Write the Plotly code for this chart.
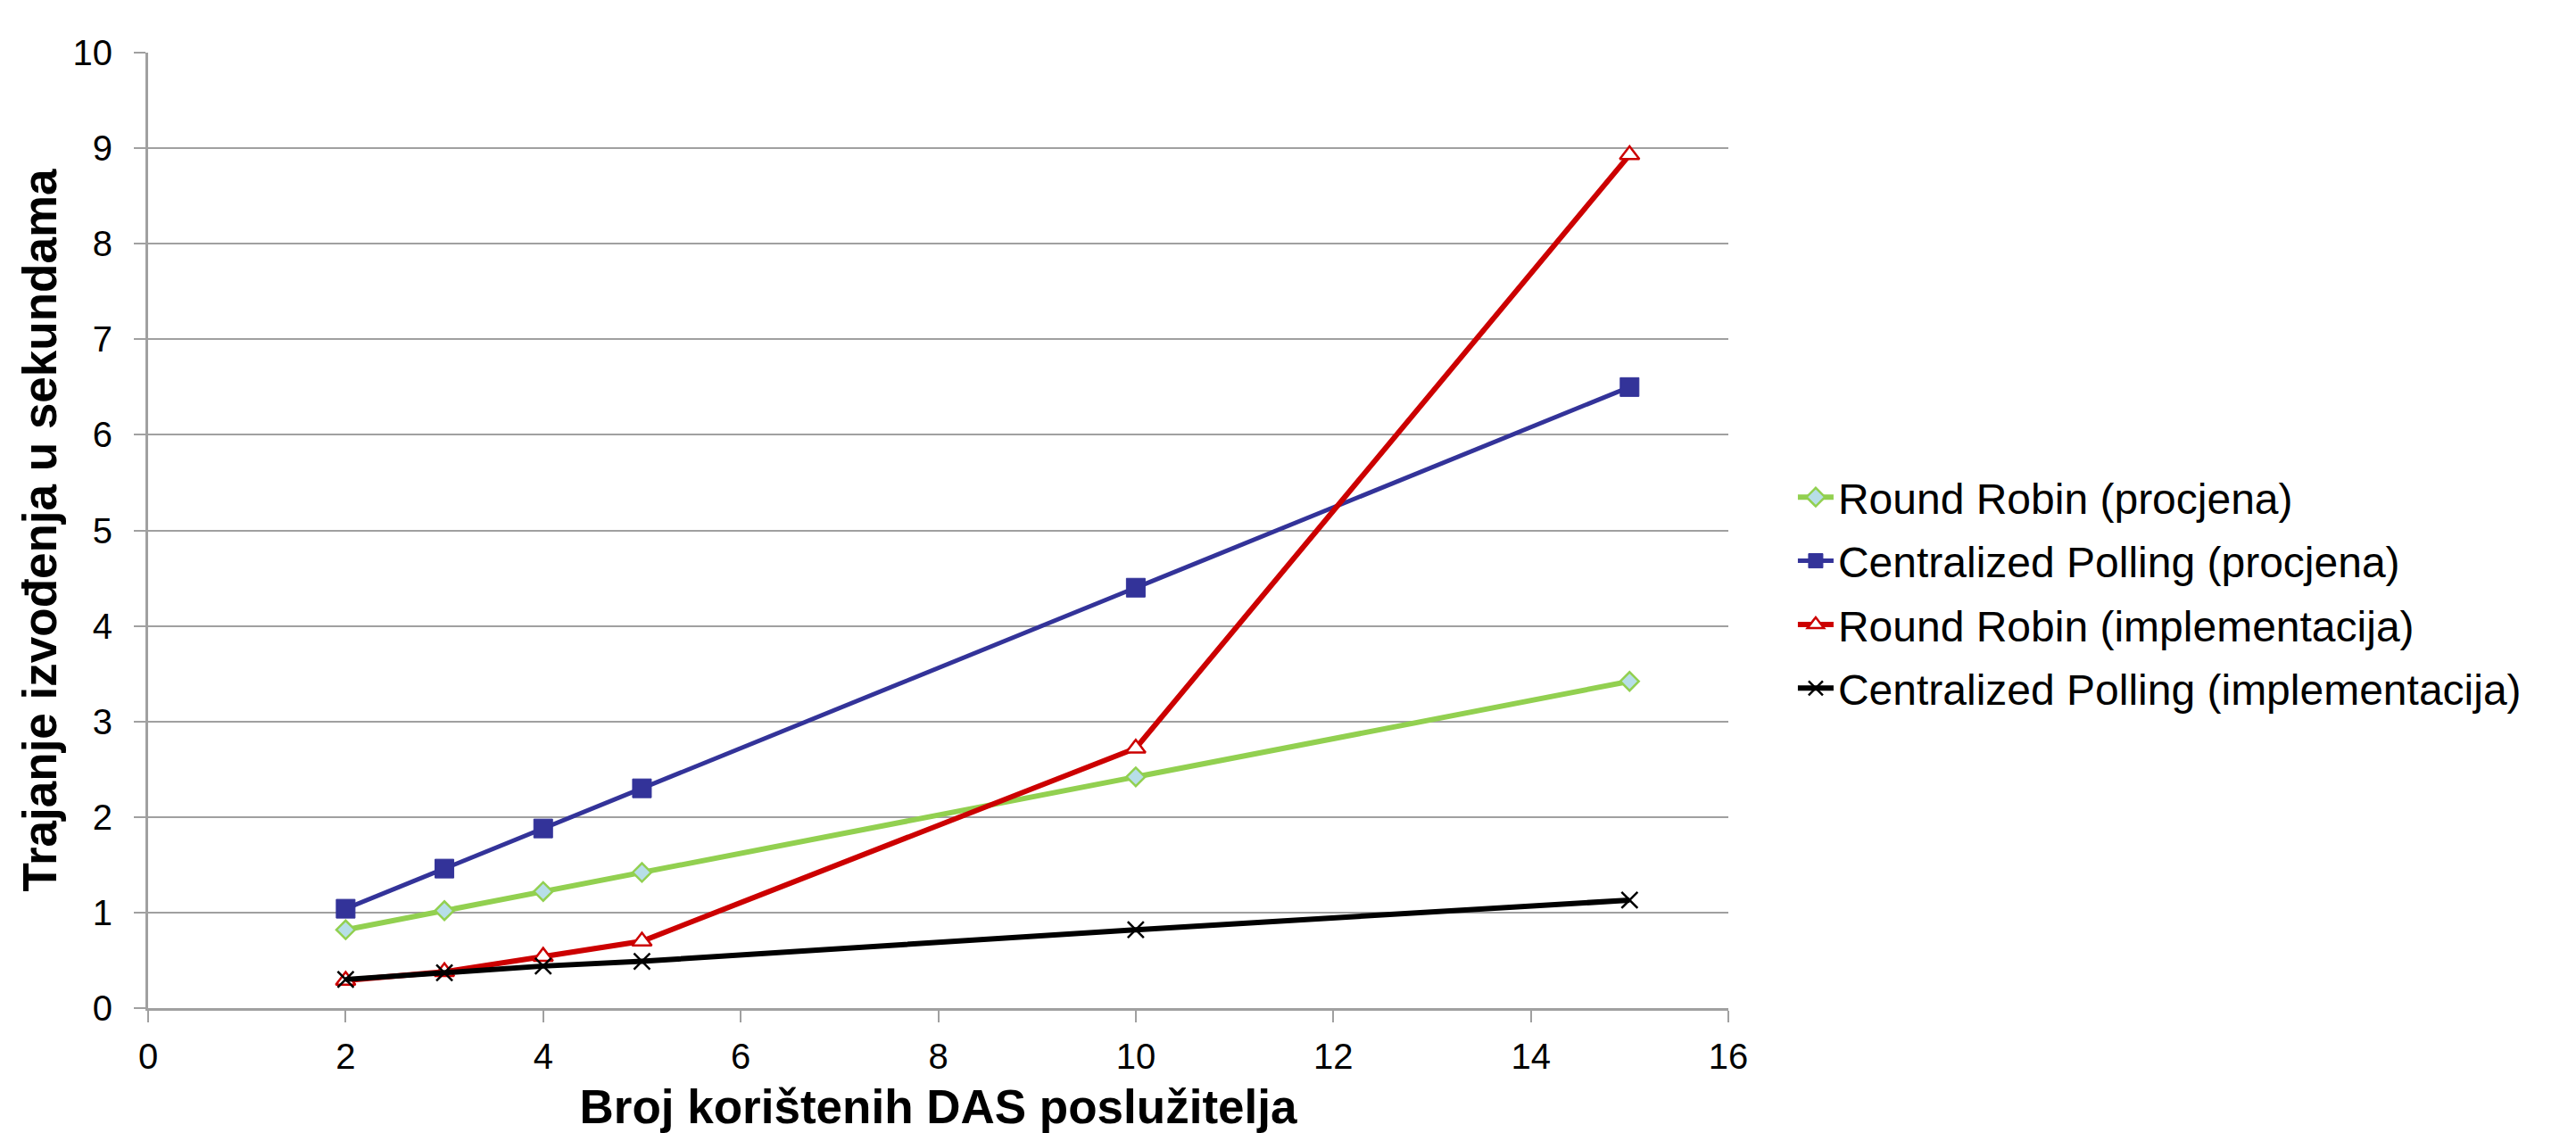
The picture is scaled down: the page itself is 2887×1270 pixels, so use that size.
import plotly.graph_objects as go

x_vals = [2, 3, 4, 5, 10, 15]
rr_est = [0.82, 1.02, 1.22, 1.42, 2.42, 3.42]
cp_est = [1.04, 1.46, 1.88, 2.30, 4.40, 6.50]
rr_impl = [0.29, 0.38, 0.54, 0.70, 2.72, 8.93]
cp_impl = [0.30, 0.37, 0.44, 0.49, 0.82, 1.13]

names = [
    "Round Robin (procjena)",
    "Centralized Polling (procjena)",
    "Round Robin (implementacija)",
    "Centralized Polling (implementacija)",
]

x_title = "Broj korištenih DAS poslužitelja"
y_title = "Trajanje izvođenja u sekundama"

FONT = "Liberation Sans, Arial, sans-serif"

fig = go.Figure()
fig.add_trace(go.Scatter(
    x=x_vals, y=rr_est, name=names[0], mode="lines+markers", legendgroup="a",
    line=dict(color="#92D050", width=6),
    marker=dict(symbol="diamond", size=16, color="#B7DEE8",
                line=dict(color="#92D050", width=2.5)),
))
fig.add_trace(go.Scatter(
    x=x_vals, y=cp_est, name=names[1], mode="lines+markers", legendgroup="b",
    line=dict(color="#333399", width=5),
    marker=dict(symbol="square", size=21, color="#333399",
                line=dict(color="#333399", width=1)),
))
fig.add_trace(go.Scatter(
    x=x_vals, y=rr_impl, name=names[2], mode="lines+markers", legendgroup="c",
    line=dict(color="#CC0000", width=6),
    marker=dict(symbol="triangle-up", size=19, color="white",
                line=dict(color="#CC0000", width=2.5)),
))
fig.add_trace(go.Scatter(
    x=x_vals, y=cp_impl, name=names[3], mode="lines+markers", legendgroup="d",
    line=dict(color="black", width=6),
    marker=dict(symbol="x-thin", size=18, color="black",
                line=dict(color="black", width=2.5)),
))

fig.update_layout(
    width=2887, height=1270,
    margin=dict(l=166, r=950, t=59, b=140),
    paper_bgcolor="white", plot_bgcolor="white",
    font=dict(family=FONT, color="black", size=40),
    legend=dict(
        xref="container", yref="container",
        x=0.6962, y=0.4768, xanchor="left", yanchor="middle",
        font=dict(family=FONT, size=48, color="black"),
        traceorder="grouped", tracegroupgap=6,
        bgcolor="rgba(0,0,0,0)", itemwidth=40,
    ),
    xaxis=dict(
        range=[0, 16], dtick=2, tick0=0,
        showgrid=False, zeroline=False, automargin=False,
        showline=True, linecolor="#A0A0A0", linewidth=3,
        ticks="outside", ticklen=13, tickwidth=2, tickcolor="#A0A0A0",
        ticklabelstandoff=4,
        tickfont=dict(family=FONT, size=40, color="black"),
        title=dict(text=x_title, font=dict(family=FONT, size=53, color="black", weight="bold"),
                   standoff=28),
    ),
    yaxis=dict(
        range=[0, 10], dtick=1, tick0=0,
        showgrid=True, gridcolor="#A0A0A0", gridwidth=2,
        zeroline=False, automargin=False,
        showline=True, linecolor="#A0A0A0", linewidth=3,
        ticks="outside", ticklen=13, tickwidth=2, tickcolor="#A0A0A0",
        ticklabelstandoff=16,
        tickfont=dict(family=FONT, size=40, color="black"),
        title=dict(text=y_title, font=dict(family=FONT, size=53, color="black", weight="bold"),
                   standoff=1),
    ),
)

fig.write_html("out.html", config={"displayModeBar": False},
               post_script="document.body.style.margin='0';")
